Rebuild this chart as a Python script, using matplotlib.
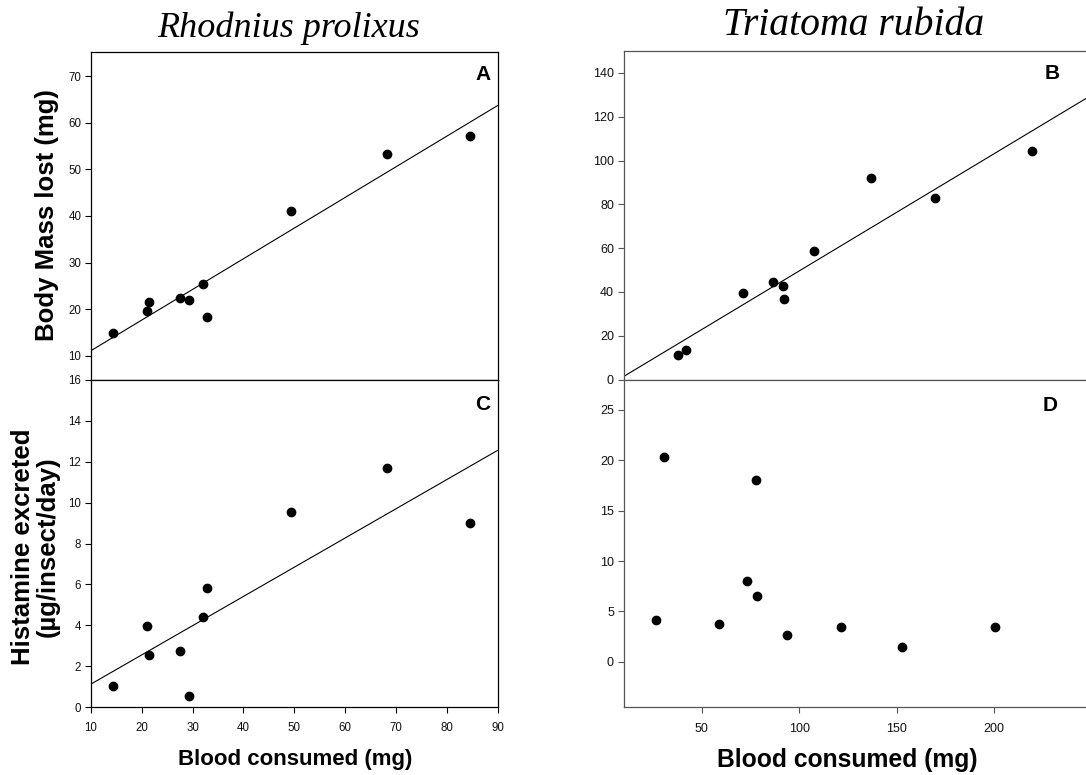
import numpy as np
import matplotlib
matplotlib.use("Agg")
import matplotlib.pyplot as plt

plt.rcParams['font.family'] = ['Liberation Sans', 'DejaVu Sans']

# Rhodnius prolixus (same insects in panels A and C)
rp_blood = [14.4, 21.1, 21.4, 27.5, 29.2, 32.0, 32.8, 49.3, 68.3, 84.5]
rp_mass_lost = [14.8, 19.6, 21.5, 22.3, 22.0, 25.3, 18.4, 41.0, 53.4, 57.1]
rp_histamine = [1.04, 3.97, 2.55, 2.74, 0.56, 4.38, 5.84, 9.53, 11.69, 9.01]

# Triatoma rubida
tr_blood_b = [37.9, 42.2, 71.3, 86.5, 91.6, 92.2, 107.8, 137.0, 169.8, 219.6]
tr_mass_lost = [11.1, 13.3, 39.7, 44.4, 42.7, 36.8, 58.7, 91.8, 83.0, 104.2]
tr_blood_d = [26.8, 30.9, 58.9, 73.2, 78.0, 78.5, 93.5, 121.3, 152.7, 200.5]
tr_histamine = [4.17, 20.3, 3.77, 8.0, 18.0, 6.55, 2.68, 3.47, 1.52, 3.47]

W, H = 1086, 775
fig = plt.figure(figsize=(W / 100, H / 100), dpi=100)


def px_axes(left, top, right, bottom):
    return fig.add_axes([left / W, 1 - bottom / H, (right - left) / W, (bottom - top) / H])


def style(ax, spine_color, tick_size):
    for s in ax.spines.values():
        s.set_color(spine_color)
        s.set_linewidth(0.9)
    ax.tick_params(axis='both', direction='out', length=4, width=0.8,
                   color=spine_color, labelsize=tick_size, labelcolor='#111111')
    ax.tick_params(axis='y', pad=3)
    ax.tick_params(axis='x', pad=7)


def add_fit(ax, x, y):
    # least squares line across the whole panel
    slope, icpt = np.polyfit(x, y, 1)
    xs = np.array(ax.get_xlim())
    ax.plot(xs, slope * xs + icpt, color='black', lw=0.8, zorder=2)


def dots(ax, x, y):
    ax.plot(x, y, 'o', color='black', ms=6, zorder=3)


def letter(ax, txt, x, y):
    ax.text(x, y, txt, transform=ax.transAxes, ha='right', va='top',
            fontsize=15, fontweight='bold')


# ---- Panel A ----
ax_a = px_axes(91, 52, 497.5, 380)
ax_a.set_xlim(10, 90)
ax_a.set_ylim(4.8, 75.2)
ax_a.set_yticks(np.arange(10, 71, 10))
ax_a.set_xticks([])
dots(ax_a, rp_blood, rp_mass_lost)
add_fit(ax_a, rp_blood, rp_mass_lost)
style(ax_a, 'black', 8.3)
letter(ax_a, 'A', 0.983, 0.96)

# ---- Panel C ----
ax_c = px_axes(91, 380, 497.5, 707)
ax_c.set_xlim(10, 90)
ax_c.set_ylim(0, 16)
ax_c.set_yticks(np.arange(0, 17, 2))
ax_c.set_xticks(np.arange(10, 91, 10))
dots(ax_c, rp_blood, rp_histamine)
add_fit(ax_c, rp_blood, rp_histamine)
style(ax_c, 'black', 8.3)
letter(ax_c, 'C', 0.982, 0.954)

# ---- Panel B ----
ax_b = px_axes(623.7, 51, 1091.7, 379.5)
ax_b.set_xlim(10, 250)
ax_b.set_ylim(0, 150)
ax_b.set_yticks(np.arange(0, 141, 20))
ax_b.set_xticks([])
dots(ax_b, tr_blood_b, tr_mass_lost)
add_fit(ax_b, tr_blood_b, tr_mass_lost)
style(ax_b, '#555555', 9)
letter(ax_b, 'B', 0.932, 0.96)

# ---- Panel D ----
ax_d = px_axes(623.7, 379.5, 1091.7, 707.3)
ax_d.set_xlim(10, 250)
ax_d.set_ylim(-4.5, 28)
ax_d.set_yticks(np.arange(0, 26, 5))
ax_d.set_xticks([50, 100, 150, 200])
dots(ax_d, tr_blood_d, tr_histamine)
style(ax_d, '#555555', 9)
letter(ax_d, 'D', 0.928, 0.949)

# ---- titles and axis labels ----
fig.text(288.5 / W, 1 - 37 / H, 'Rhodnius prolixus', ha='center', va='baseline',
         family='Liberation Serif', style='italic', fontsize=26)
fig.text(854 / W, 1 - 35 / H, 'Triatoma rubida', ha='center', va='baseline',
         family='Liberation Serif', style='italic', fontsize=28.5)

fig.text(47 / W, 1 - 215 / H, 'Body Mass lost (mg)', rotation=90, ha='center', va='center',
         fontsize=18.5, fontweight='bold')
fig.text(35.5 / W, 1 - 547 / H, 'Histamine excreted\n(µg/insect/day)', rotation=90,
         ha='center', va='center', fontsize=18.5, fontweight='bold', linespacing=1.0,
         multialignment='center')

fig.text(295 / W, 1 - 760 / H, 'Blood consumed (mg)', ha='center', va='center',
         fontsize=16, fontweight='bold')
fig.text(847 / W, 1 - 760 / H, 'Blood consumed (mg)', ha='center', va='center',
         fontsize=17.8, fontweight='bold')

fig.savefig('out.png', dpi=100)
